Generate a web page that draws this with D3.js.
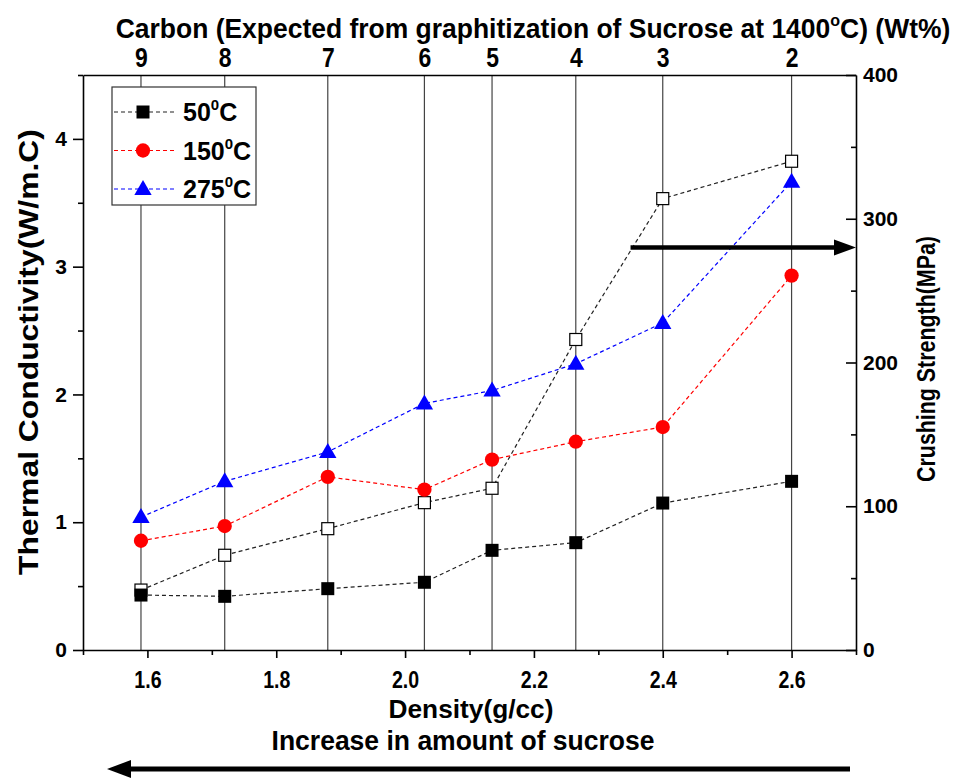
<!DOCTYPE html>
<html>
<head>
<meta charset="utf-8">
<script src="https://cdn.jsdelivr.net/npm/d3@7"></script>
<style>
  html, body { margin: 0; padding: 0; background: #fff; }
  svg { display: block; }
  text { font-family: "Liberation Sans", Arial, sans-serif; font-weight: bold; fill: #000; }
</style>
</head>
<body>
<svg id="chart" width="957" height="779"></svg>
<script>
// ---------- data ----------
const density = [1.59, 1.72, 1.88, 2.03, 2.135, 2.265, 2.40, 2.60];
const carbonWt = [9, 8, 7, 6, 5, 4, 3, 2];
const tc50 = [0.43, 0.42, 0.48, 0.53, 0.78, 0.84, 1.15, 1.32];
const tc150 = [0.855, 0.97, 1.355, 1.255, 1.49, 1.63, 1.745, 2.93];
const tc275 = [1.04, 1.32, 1.55, 1.93, 2.03, 2.24, 2.56, 3.665];
const crushing = [41.7, 65.9, 84.4, 102.5, 112.5, 216, 314, 340];
const seriesNames = ["50", "150", "275"];
const xTicks = [1.6, 1.8, 2.0, 2.2, 2.4, 2.6];
const xMinor = [1.5, 1.7, 1.9, 2.1, 2.3, 2.5, 2.7];
const yLTicks = [0, 1, 2, 3, 4];
const yLMinor = [0.5, 1.5, 2.5, 3.5, 4.5];
const yRTicks = [0, 100, 200, 300, 400];
const yRMinor = [50, 150, 250, 350];

// ---------- layout ----------
const L = 83, R = 856, T = 75, B = 650;
const svg = d3.select("#chart");
const x = d3.scaleLinear().domain([1.5, 2.7]).range([L, R]);
const yL = d3.scaleLinear().domain([0, 4.5]).range([B, T]);
const yR = d3.scaleLinear().domain([0, 400]).range([B, T]);

// helper: horizontally squeeze text to target width
function fitWidth(sel, target) {
  sel.each(function () {
    const w = this.getComputedTextLength();
    const s = target / w;
    const t = d3.select(this);
    const base = t.attr("transform") || "";
    t.attr("transform", base + ` scale(${s},1)`);
  });
}

// vertical lines through data
svg.append("g").selectAll("line").data(density).join("line")
  .attr("x1", d => x(d)).attr("x2", d => x(d))
  .attr("y1", T).attr("y2", B)
  .attr("stroke", "#444").attr("stroke-width", 1.2);

// ---------- axes ----------
function styleAxis(g, fs) {
  g.selectAll("path.domain").attr("stroke", "#000").attr("stroke-width", 1.6);
  g.selectAll(".tick line").attr("stroke", "#000").attr("stroke-width", 1.6);
  g.selectAll("text").attr("font-size", fs).attr("font-family", null).attr("fill", "#000");
}

// bottom
const gB = svg.append("g").attr("transform", `translate(0,${B})`)
  .call(d3.axisBottom(x).tickValues(xTicks).tickFormat(d3.format(".1f")).tickSize(8).tickSizeOuter(0).tickPadding(14));
styleAxis(gB, 23);
gB.selectAll("text").attr("transform", "scale(0.85,1)");
svg.append("g").attr("transform", `translate(0,${B})`)
  .call(d3.axisBottom(x).tickValues(xMinor).tickFormat("").tickSize(5).tickSizeOuter(0))
  .call(g => { g.select("path.domain").remove(); styleAxis(g, 10); });

// top
const gT = svg.append("g").attr("transform", `translate(0,${T})`)
  .call(d3.axisTop(x).tickValues(density).tickFormat((d, i) => carbonWt[i]).tickSize(0).tickSizeOuter(0).tickPadding(8));
styleAxis(gT, 27);
gT.selectAll("text").attr("transform", "scale(0.85,1)");

// left
const gL = svg.append("g").attr("transform", `translate(${L},0)`)
  .call(d3.axisLeft(yL).tickValues(yLTicks).tickFormat(d3.format("d")).tickSize(10).tickSizeOuter(0).tickPadding(6));
styleAxis(gL, 21);
svg.append("g").attr("transform", `translate(${L},0)`)
  .call(d3.axisLeft(yL).tickValues(yLMinor).tickFormat("").tickSize(5).tickSizeOuter(0))
  .call(g => { g.select("path.domain").remove(); styleAxis(g, 10); });

// right
const gR = svg.append("g").attr("transform", `translate(${R},0)`)
  .call(d3.axisRight(yR).tickValues(yRTicks).tickSize(-10).tickSizeOuter(0).tickPadding(7));
styleAxis(gR, 21);
svg.append("g").attr("transform", `translate(${R},0)`)
  .call(d3.axisRight(yR).tickValues(yRMinor).tickFormat("").tickSize(-5).tickSizeOuter(0))
  .call(g => { g.select("path.domain").remove(); styleAxis(g, 10); });

// ---------- series ----------
const red = "#ff0000", blue = "#0000ff";
function dashed(vals, yScale, color) {
  svg.append("path")
    .datum(vals)
    .attr("fill", "none").attr("stroke", color).attr("stroke-width", 1.2)
    .attr("stroke-dasharray", "4,3")
    .attr("d", d3.line().x((d, i) => x(density[i])).y(d => yScale(d)));
}
dashed(crushing, yR, "#222");
dashed(tc50, yL, "#222");
dashed(tc150, yL, red);
dashed(tc275, yL, blue);

const sym = {
  square: d3.symbol().type(d3.symbolSquare).size(169),
  circle: d3.symbol().type(d3.symbolCircle).size(160),
  triangle: d3.symbol().type(d3.symbolTriangle).size(130)
};
// open squares (crushing strength)
svg.append("g").selectAll("rect").data(crushing).join("rect")
  .attr("x", (d, i) => x(density[i]) - 6).attr("y", d => yR(d) - 6)
  .attr("width", 12).attr("height", 12)
  .attr("fill", "#fff").attr("stroke", "#000").attr("stroke-width", 1.2);
svg.append("g").selectAll("path").data(tc50).join("path")
  .attr("d", sym.square).attr("fill", "#000")
  .attr("transform", (d, i) => `translate(${x(density[i])},${yL(d)})`);
svg.append("g").selectAll("path").data(tc150).join("path")
  .attr("d", sym.circle).attr("fill", red)
  .attr("transform", (d, i) => `translate(${x(density[i])},${yL(d)})`);
svg.append("g").selectAll("path").data(tc275).join("path")
  .attr("d", sym.triangle).attr("fill", blue)
  .attr("transform", (d, i) => `translate(${x(density[i])},${yL(d) + 1})`);

// ---------- legend ----------
const lg = svg.append("g");
lg.append("rect").attr("x", 112).attr("y", 87).attr("width", 144).attr("height", 118)
  .attr("fill", "#fff").attr("stroke", "#333").attr("stroke-width", 1.2);
const legendItems = [
  { name: seriesNames[0], color: "#222", s: sym.square, fill: "#000" },
  { name: seriesNames[1], color: red, s: sym.circle, fill: red },
  { name: seriesNames[2], color: blue, s: sym.triangle, fill: blue }
];
legendItems.forEach((it, k) => {
  const yy = 112 + k * 38.5;
  lg.append("line").attr("x1", 114).attr("x2", 175).attr("y1", yy).attr("y2", yy)
    .attr("stroke", it.color).attr("stroke-width", 1.2).attr("stroke-dasharray", "4,3");
  lg.append("path").attr("d", it.s).attr("fill", it.fill)
    .attr("transform", `translate(143,${yy + (k === 2 ? 1 : 0)})`);
  const t = lg.append("text").attr("x", 183).attr("y", yy + 9).attr("font-size", 25);
  t.append("tspan").text(it.name);
  t.append("tspan").attr("font-size", 15).attr("dy", -11).text("0");
  t.append("tspan").attr("dy", 11).text("C");
});

// ---------- titles ----------
const title = svg.append("text").attr("text-anchor", "middle")
  .attr("font-size", 28).attr("transform", "translate(533,38)");
title.append("tspan").text("Carbon (Expected from graphitization of Sucrose at 1400");
title.append("tspan").attr("font-size", 17).attr("dy", -12).text("o");
title.append("tspan").attr("dy", 12).text("C) (Wt%)");
fitWidth(title, 835);

const xt = svg.append("text").attr("text-anchor", "middle").attr("font-size", 26)
  .attr("transform", "translate(471,718)").text("Density(g/cc)");
fitWidth(xt, 165);
const inc = svg.append("text").attr("text-anchor", "middle").attr("font-size", 27)
  .attr("transform", "translate(463,750)").text("Increase in amount of sucrose");
fitWidth(inc, 383);

const ylt = svg.append("text").attr("text-anchor", "middle").attr("font-size", 27)
  .attr("transform", "translate(38,352) rotate(-90)").text("Thermal Conductivity(W/m.C)");
const yrt = svg.append("text").attr("text-anchor", "middle").attr("font-size", 25)
  .attr("transform", "translate(935,359) rotate(-90)").text("Crushing Strength(MPa)");
fitWidth(yrt, 246);
fitWidth(ylt, 446);

// ---------- arrows ----------
function arrow(x1, x2, yy, headLen, halfW, sw) {
  const dir = Math.sign(x2 - x1);
  svg.append("line").attr("x1", x1).attr("x2", x2 - dir * headLen * 0.8)
    .attr("y1", yy).attr("y2", yy).attr("stroke", "#000").attr("stroke-width", sw);
  svg.append("path")
    .attr("d", `M${x2},${yy} L${x2 - dir * headLen},${yy - halfW} L${x2 - dir * headLen},${yy + halfW} Z`)
    .attr("fill", "#000");
}
arrow(x(2.35), R, yR(280), 22, 8, 4.5);
arrow(850, 107, 769, 24, 9, 5);
</script>
</body>
</html>
